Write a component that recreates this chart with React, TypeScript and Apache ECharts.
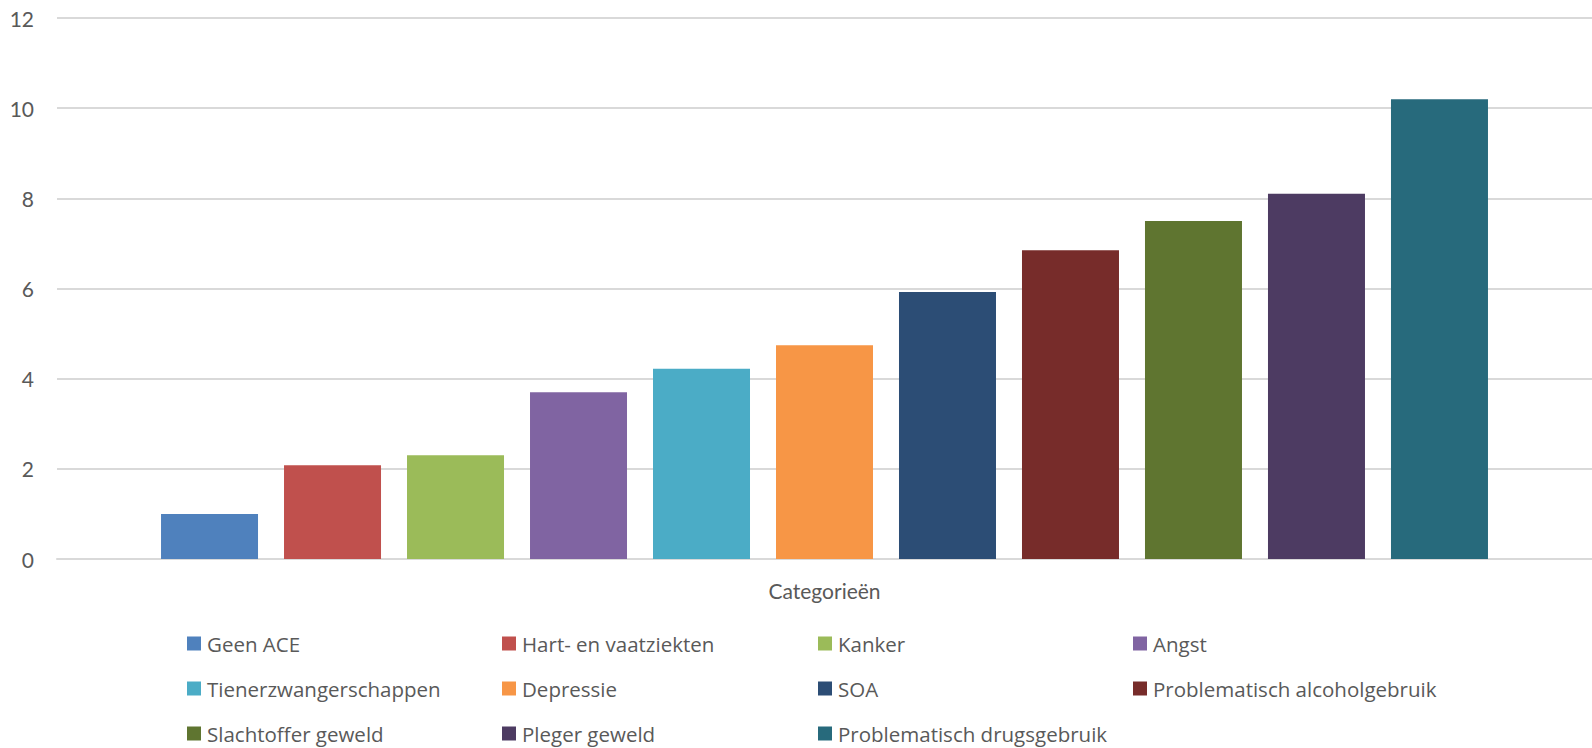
import React, { useEffect, useRef } from "react";
import * as echarts from "echarts";

const categories = ["Categorieën"];
const seriesNames = [
  "Geen ACE",
  "Hart- en vaatziekten",
  "Kanker",
  "Angst",
  "Tienerzwangerschappen",
  "Depressie",
  "SOA",
  "Problematisch alcoholgebruik",
  "Slachtoffer geweld",
  "Pleger geweld",
  "Problematisch drugsgebruik",
];
const seriesValues = [1.0, 2.08, 2.3, 3.7, 4.22, 4.74, 5.92, 6.85, 7.5, 8.1, 10.2];
const seriesColors = [
  "#4F81BD",
  "#C0504D",
  "#9BBB59",
  "#8064A2",
  "#4BACC6",
  "#F79646",
  "#2C4D75",
  "#772C2A",
  "#5F7530",
  "#4D3B62",
  "#276A7C",
];
const yTicks = { min: 0, max: 12, interval: 2 };

const FONT = "Lato, 'Noto Sans', sans-serif";
const LEGEND_FONT = "'Open Sans', Lato, sans-serif";
const TEXT_COLOR = "#595959";

export default function App() {
  const ref = useRef<HTMLDivElement>(null);
  useEffect(() => {
    if (!ref.current) return;
    const chart = echarts.init(ref.current, undefined, { renderer: "svg" });
    const columns = [
      [0, 4, 8],
      [1, 5, 9],
      [2, 6, 10],
      [3, 7],
    ];
    const colLeft = [187, 502, 818, 1133];
    chart.setOption({
      animation: false,
      backgroundColor: "#ffffff",
      grid: { left: 57, right: -13, top: 18, bottom: 189 },
      xAxis: {
        type: "category",
        data: categories,
        axisLine: { show: true, lineStyle: { color: "#d9d9d9", width: 2 } },
        axisTick: { show: false },
        axisLabel: { color: TEXT_COLOR, fontFamily: FONT, fontSize: 21, margin: 21 },
      },
      yAxis: {
        type: "value",
        min: yTicks.min,
        max: yTicks.max,
        interval: yTicks.interval,
        axisLine: { show: false },
        axisTick: { show: false },
        splitLine: { lineStyle: { color: "#d9d9d9", width: 2 } },
        axisLabel: { color: TEXT_COLOR, fontFamily: FONT, fontSize: 21, margin: 23 },
      },
      legend: columns.map((idxs, c) => ({
        orient: "vertical",
        left: colLeft[c],
        top: 633,
        padding: 0,
        itemWidth: 14,
        itemHeight: 14,
        itemGap: 24,
        icon: "rect",
        data: idxs.map((i) => seriesNames[i]),
        textStyle: { color: TEXT_COLOR, fontFamily: LEGEND_FONT, fontSize: 20.5, lineHeight: 20, padding: [0, 0, 0, 1] },
        selectedMode: false,
      })),
      series: seriesNames.map((name, i) => ({
        name,
        type: "bar",
        data: [seriesValues[i]],
        barWidth: 97,
        barGap: "26.8%",
        itemStyle: { color: seriesColors[i] },
      })),
    });
    return () => chart.dispose();
  }, []);
  return (
    <div
      ref={ref}
      style={{ position: "absolute", left: 0, top: 0, width: 1592, height: 748 }}
    />
  );
}
